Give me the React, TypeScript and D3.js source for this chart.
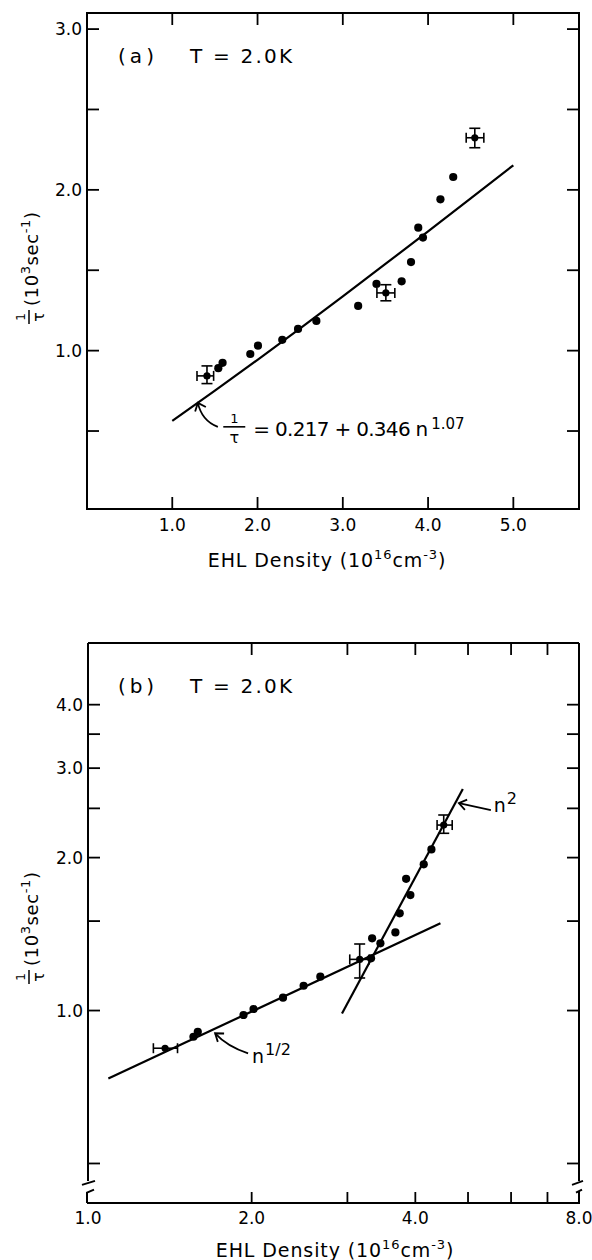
import React from 'react';
import * as d3 from 'd3';

const FONT = '"DejaVu Sans", Verdana, sans-serif';

// ---------- panel (a): linear axes ----------
const aXTicks = [1, 2, 3, 4, 5];
const aXLabels = ['1.0', '2.0', '3.0', '4.0', '5.0'];
const aYTicks = [0.5, 1.0, 1.5, 2.0, 2.5, 3.0];
const aYLabelVals = [1.0, 2.0, 3.0];
const aYLabels = ['1.0', '2.0', '3.0'];

// plain points [n, 1/tau]
const aDots: [number, number][] = [
  [1.54, 0.891], [1.59, 0.924], [1.915, 0.979], [2.005, 1.031], [2.29, 1.067],
  [2.475, 1.135], [2.69, 1.185], [3.18, 1.278], [3.395, 1.415], [3.69, 1.431],
  [3.80, 1.551], [3.885, 1.765], [3.94, 1.703], [4.145, 1.941], [4.295, 2.080],
];
// points with error bars
const aErrs = [
  { n: 1.407, v: 0.843, nLo: 1.29, nHi: 1.485, vLo: 0.795, vHi: 0.905 },
  { n: 3.505, v: 1.359, nLo: 3.40, nHi: 3.61, vLo: 1.31, vHi: 1.41 },
  { n: 4.548, v: 2.324, nLo: 4.447, nHi: 4.654, vLo: 2.262, vHi: 2.383 },
];
// fit 1/tau = 0.217 + 0.346 n^1.07
const aFitN = [1.0, 1.5, 2.0, 2.5, 3.0, 3.5, 4.0, 4.5, 5.0];
const aFitV = [0.563, 0.751, 0.943, 1.139, 1.338, 1.539, 1.742, 1.947, 2.153];

// ---------- panel (b): log-log axes ----------
const bXTicks = [2, 3, 4, 5, 6, 7];
const bXLabelVals = [1, 2, 4, 8];
const bXLabels = ['1.0', '2.0', '4.0', '8.0'];
const bYTicks = [0.5, 1.0, 1.5, 2.0, 2.5, 3.0, 3.5, 4.0];
const bYLabelVals = [1.0, 2.0, 3.0, 4.0];
const bYLabels = ['1.0', '2.0', '3.0', '4.0'];

const bDots: [number, number][] = [
  [1.563, 0.888], [1.592, 0.908], [1.932, 0.980], [2.016, 1.007], [2.284, 1.060],
  [2.492, 1.119], [2.675, 1.166], [3.316, 1.267], [3.331, 1.387], [3.450, 1.356],
  [3.676, 1.425], [3.744, 1.554], [3.847, 1.817], [3.917, 1.688], [4.145, 1.940],
  [4.282, 2.076],
];
const bErrs = [
  { n: 1.386, v: 0.843, nLo: 1.319, nHi: 1.461, vLo: 0.843, vHi: 0.843 },
  { n: 3.160, v: 1.261, nLo: 3.03, nHi: 3.29, vLo: 1.159, vHi: 1.352 },
  { n: 4.511, v: 2.318, nLo: 4.386, nHi: 4.676, vLo: 2.233, vHi: 2.426 },
];
const bHalfLine: [number, number][] = [[1.09, 0.735], [4.449, 1.485]];
const bSquareLine: [number, number][] = [[2.932, 0.987], [4.891, 2.729]];

// frames
const A = { left: 87, right: 579, top: 13, bottom: 509 };
const B = { left: 88, right: 579, top: 643, bottom: 1203 };
const TICK = 12;

const xA = d3.scaleLinear().domain([0, 5.77]).range([A.left, A.right]);
const yA = d3.scaleLinear().domain([0.015, 3.1]).range([A.bottom, A.top]);
const xB = d3.scaleLog().domain([1, 8]).range([B.left, B.right]);
const yB = d3.scaleLog().domain([0.418, 5.29]).range([B.bottom, B.top]);

function arrowHead(tx: number, ty: number, fx: number, fy: number, len = 9, ang = 0.62) {
  const a = Math.atan2(fy - ty, fx - tx);
  return `M${tx + len * Math.cos(a + ang)},${ty + len * Math.sin(a + ang)}L${tx},${ty}L${tx + len * Math.cos(a - ang)},${ty + len * Math.sin(a - ang)}`;
}

const ErrPoint = ({ x, y, x0, x1, y0, y1 }: any) => (
  <g stroke="#000" strokeWidth={1.6}>
    {x1 - x0 > 1 && (
      <>
        <line x1={x0} x2={x1} y1={y} y2={y} />
        <line x1={x0} x2={x0} y1={y - 5} y2={y + 5} />
        <line x1={x1} x2={x1} y1={y - 5} y2={y + 5} />
      </>
    )}
    {Math.abs(y1 - y0) > 1 && (
      <>
        <line x1={x} x2={x} y1={y0} y2={y1} />
        <line x1={x - 5.5} x2={x + 5.5} y1={y0} y2={y0} />
        <line x1={x - 5.5} x2={x + 5.5} y1={y1} y2={y1} />
      </>
    )}
    <circle cx={x} cy={y} r={3.6} fill="#000" stroke="none" />
  </g>
);

const YLabel = ({ x, y }: { x: number; y: number }) => (
  <g transform={`translate(${x},${y}) rotate(-90)`} fontFamily={FONT}>
    <text x={0} y={-13} fontSize={12} textAnchor="middle">1</text>
    <line x1={-7} x2={7} y1={-9} y2={-9} stroke="#000" strokeWidth={1.5} />
    <text x={0} y={6} fontSize={16} textAnchor="middle">τ</text>
    <text x={11} y={0} fontSize={18} letterSpacing={0.6}>
      (10<tspan dy={-8} fontSize={13}>3</tspan>
      <tspan dy={8}>sec</tspan>
      <tspan dy={-8} fontSize={13}>-1</tspan>
      <tspan dy={8}>)</tspan>
    </text>
  </g>
);

const XLabel = ({ x, y }: { x: number; y: number }) => (
  <text x={x} y={y} fontSize={19} textAnchor="middle" fontFamily={FONT} letterSpacing={0.9}>
    EHL Density (10<tspan dy={-8} fontSize={13}>16</tspan>
    <tspan dy={8}>cm</tspan>
    <tspan dy={-8} fontSize={13}>-3</tspan>
    <tspan dy={8}>)</tspan>
  </text>
);

export default function App() {
  const fitLine = d3.line<number>()
    .x((_, i) => xA(aFitN[i]))
    .y((v) => yA(v))
    .curve(d3.curveMonotoneX);
  const logLine = d3.line<[number, number]>().x((d) => xB(d[0])).y((d) => yB(d[1]));

  // annotation anchors (data units)
  const aTipN = 1.3, aTipV = 0.675;
  const aTx = xA(aTipN), aTy = yA(aTipV);
  const eqX = xA(1.95), eqY = yA(0.467);

  const hTx = xB(1.713), hTy = yB(0.902);
  const sTx = xB(4.81), sTy = yB(2.56);

  const bBrk1 = yB(0.462), bBrk2 = yB(0.44);

  return (
    <svg width={592} height={1260} style={{ position: 'absolute', left: 0, top: 0 }} fontFamily={FONT}>
      <rect width={592} height={1260} fill="#fff" />

      {/* ===== panel (a) ===== */}
      <rect x={A.left} y={A.top} width={A.right - A.left} height={A.bottom - A.top}
        fill="none" stroke="#000" strokeWidth={2} />
      <g stroke="#000" strokeWidth={1.8}>
        {aXTicks.map((t) => (
          <g key={'ax' + t}>
            <line x1={xA(t)} x2={xA(t)} y1={A.bottom} y2={A.bottom - TICK} />
            <line x1={xA(t)} x2={xA(t)} y1={A.top} y2={A.top + TICK} />
          </g>
        ))}
        {aYTicks.map((t) => (
          <g key={'ay' + t}>
            <line x1={A.left} x2={A.left + TICK} y1={yA(t)} y2={yA(t)} />
            <line x1={A.right} x2={A.right - TICK} y1={yA(t)} y2={yA(t)} />
          </g>
        ))}
      </g>
      {aXTicks.map((t, i) => (
        <text key={'axl' + t} x={xA(t)} y={A.bottom + 22} fontSize={17} textAnchor="middle">{aXLabels[i]}</text>
      ))}
      {aYLabelVals.map((t, i) => (
        <text key={'ayl' + t} x={A.left - 5} y={yA(t)} dy="0.36em" fontSize={17} textAnchor="end">{aYLabels[i]}</text>
      ))}
      <XLabel x={327} y={A.bottom + 58} />
      <YLabel x={38} y={317} />

      <text x={118} y={63} fontSize={20} textLength={36} lengthAdjust="spacing">(a)</text>
      <text x={190} y={63} fontSize={20} textLength={102} lengthAdjust="spacing">T = 2.0K</text>

      <path d={fitLine(aFitV) || ''} fill="none" stroke="#000" strokeWidth={2.2} />
      {aDots.map((d, i) => (
        <circle key={'ad' + i} cx={xA(d[0])} cy={yA(d[1])} r={4.1} fill="#000" />
      ))}
      {aErrs.map((e, i) => (
        <ErrPoint key={'ae' + i} x={xA(e.n)} y={yA(e.v)} x0={xA(e.nLo)} x1={xA(e.nHi)} y0={yA(e.vLo)} y1={yA(e.vHi)} />
      ))}

      {/* fit annotation */}
      <g fill="none" stroke="#000" strokeWidth={1.8}>
        <path d={`M${aTx + 20},${aTy + 24}Q${aTx + 4},${aTy + 18} ${aTx},${aTy}`} />
        <path d={arrowHead(aTx, aTy, aTx + 5, aTy + 12, 9, 0.7)} />
      </g>
      <text x={eqX - 19} y={eqY - 13} fontSize={13} textAnchor="middle">1</text>
      <line x1={eqX - 30} x2={eqX - 8} y1={eqY - 9.5} y2={eqY - 9.5} stroke="#000" strokeWidth={1.6} />
      <text x={eqX - 19} y={eqY + 7} fontSize={16} textAnchor="middle">τ</text>
      <text x={eqX} y={eqY} fontSize={20} textLength={175} lengthAdjust="spacing">= 0.217 + 0.346 n</text>
      <text x={eqX + 178} y={eqY - 7} fontSize={15}>1.07</text>

      {/* ===== panel (b) ===== */}
      <g stroke="#000" strokeWidth={2} fill="none">
        <line x1={B.left} x2={B.right} y1={B.top} y2={B.top} />
        <line x1={B.left - 1} x2={B.right + 1} y1={B.bottom} y2={B.bottom} />
        <line x1={B.left} x2={B.left} y1={B.top} y2={bBrk1} />
        <line x1={B.right} x2={B.right} y1={B.top} y2={bBrk1} />
        <line x1={B.left - 6} x2={B.left + 7} y1={bBrk1 + 4} y2={bBrk1} />
        <line x1={B.right - 7} x2={B.right + 4} y1={bBrk1 + 4} y2={bBrk1} />
        <path d={`M${B.left + 6},${bBrk2 - 2}L${B.left - 1},${bBrk2 + 1}L${B.left - 1},${B.bottom}`} />
        <path d={`M${B.right - 3},${bBrk2 + 1}L${B.right + 3},${bBrk2 - 2}M${B.right},${bBrk2}L${B.right},${B.bottom}`} />
      </g>
      <g stroke="#000" strokeWidth={1.8}>
        {bXTicks.map((t) => (
          <g key={'bx' + t}>
            <line x1={xB(t)} x2={xB(t)} y1={B.bottom} y2={B.bottom - 11} />
            <line x1={xB(t)} x2={xB(t)} y1={B.top} y2={B.top + TICK} />
          </g>
        ))}
        {bYTicks.map((t) => (
          <g key={'by' + t}>
            <line x1={B.left} x2={B.left + TICK} y1={yB(t)} y2={yB(t)} />
            <line x1={B.right} x2={B.right - TICK} y1={yB(t)} y2={yB(t)} />
          </g>
        ))}
      </g>
      {bXLabelVals.map((t, i) => (
        <text key={'bxl' + t} x={xB(t)} y={B.bottom + 21} fontSize={17} textAnchor="middle">{bXLabels[i]}</text>
      ))}
      {bYLabelVals.map((t, i) => (
        <text key={'byl' + t} x={B.left - 5} y={yB(t)} dy="0.36em" fontSize={17} textAnchor="end">{bYLabels[i]}</text>
      ))}
      <XLabel x={335} y={B.bottom + 54} />
      <YLabel x={38} y={977} />

      <text x={118} y={693} fontSize={20} textLength={36} lengthAdjust="spacing">(b)</text>
      <text x={190} y={693} fontSize={20} textLength={102} lengthAdjust="spacing">T = 2.0K</text>

      <path d={logLine(bHalfLine) || ''} fill="none" stroke="#000" strokeWidth={2.2} />
      <path d={logLine(bSquareLine) || ''} fill="none" stroke="#000" strokeWidth={2.2} />
      {bDots.map((d, i) => (
        <circle key={'bd' + i} cx={xB(d[0])} cy={yB(d[1])} r={4.1} fill="#000" />
      ))}
      {bErrs.map((e, i) => (
        <ErrPoint key={'be' + i} x={xB(e.n)} y={yB(e.v)} x0={xB(e.nLo)} x1={xB(e.nHi)} y0={yB(e.vLo)} y1={yB(e.vHi)} />
      ))}

      {/* n^1/2 annotation */}
      <g fill="none" stroke="#000" strokeWidth={1.8}>
        <path d={`M${hTx + 33},${hTy + 20}Q${hTx + 12},${hTy + 13} ${hTx},${hTy}`} />
        <path d={arrowHead(hTx, hTy, hTx + 12, hTy + 9)} />
      </g>
      <text x={hTx + 37} y={hTy + 30} fontSize={19}>n</text>
      <text x={hTx + 50} y={hTy + 22} fontSize={16}>1/2</text>

      {/* n^2 annotation */}
      <g fill="none" stroke="#000" strokeWidth={1.8}>
        <path d={`M${sTx + 32},${sTy + 7}L${sTx},${sTy}`} />
        <path d={arrowHead(sTx, sTy, sTx + 32, sTy + 7)} />
      </g>
      <text x={sTx + 35} y={sTy + 9} fontSize={19}>n</text>
      <text x={sTx + 48} y={sTy + 1} fontSize={16}>2</text>
    </svg>
  );
}
